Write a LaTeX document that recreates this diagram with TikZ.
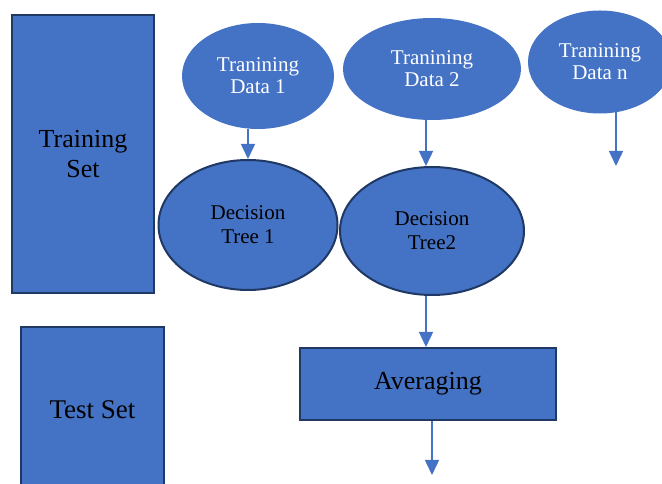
\documentclass[tikz,border=0pt]{standalone}
\usepackage{fontspec}
\setmainfont{Liberation Serif}
\usepackage{tikz}
\usepackage{xcolor}
\usetikzlibrary{arrows.meta,shapes.geometric}

\begin{document}
\begin{tikzpicture}[x=1pt, y=1pt,
		setbox/.style={draw={NAVY}, line width={2pt}, fill={BLUE}, rectangle, inner sep=0pt, align=center, font={\fontsize{26}{30}\selectfont}},
		databox/.style={fill={BLUE}, ellipse, inner sep=0pt, align=center, text={white}, font={\fontsize{21}{22}\selectfont}},
		treebox/.style={draw={NAVY}, line width={2pt}, fill={BLUE}, ellipse, inner sep=0pt, align=center, font={\fontsize{21}{24}\selectfont}},
		flow/.style={draw={BLUE}, line width={1.5pt}, -{Triangle[width=14pt, length=15pt]}}]
				\definecolor{BLUE}{RGB}{68, 114, 196}
				\definecolor{NAVY}{RGB}{31, 56, 100}
				\useasboundingbox (0, 0) rectangle (662, 484);
				
				\node[setbox, minimum width={142pt}, minimum height={278pt}] (trainset) at ( 83.000,  330.000) {Training\\Set};
				\node[setbox, minimum width={143pt}, minimum height={166pt}, font={\fontsize{27}{30}\selectfont}] (testset) at ( 92.500,  74.000) {Test Set};
				
				\node[databox, minimum width={152pt}, minimum height={106pt}] (data1) at ( 258.000,  408.000) {Tranining\\Data 1};
				\node[databox, minimum width={178pt}, minimum height={102pt}] (data2) at ( 432.000,  415.000) {Tranining\\Data 2};
				\node[databox, minimum width={144pt}, minimum height={103pt}] (datan) at ( 600.000,  422.000) {Tranining\\Data n};
				
				\node[treebox, minimum width={179pt}, minimum height={130pt}] (tree1) at ( 248.000,  259.000) {Decision\\Tree 1};
				\node[treebox, minimum width={184pt}, minimum height={128pt}] (tree2) at ( 432.000,  253.000) {Decision\\Tree2};
				
				\node[setbox, minimum width={256pt}, minimum height={72pt}] (avg) at ( 428.000,  100.000) {Averaging};
				
				\coordinate (tipn) at ( 616.000,  318.000);
				\coordinate (result) at ( 432.000,  9.000);
				
				\draw[flow] (data1.south -| tree1.north) -- (tree1.north);
				\draw[flow] ([xshift=-6pt]data2.south) -- ([xshift=-6pt]tree2.north);
				\draw[flow] ([yshift=1.5pt]datan.south -| tipn) -- (tipn);
				\draw[flow] ([xshift=-6pt]tree2.south) -- ([xshift=-2pt]avg.north);
				\draw[flow] (avg.south -| result) -- (result);
				
			\end{tikzpicture}
\end{document}
